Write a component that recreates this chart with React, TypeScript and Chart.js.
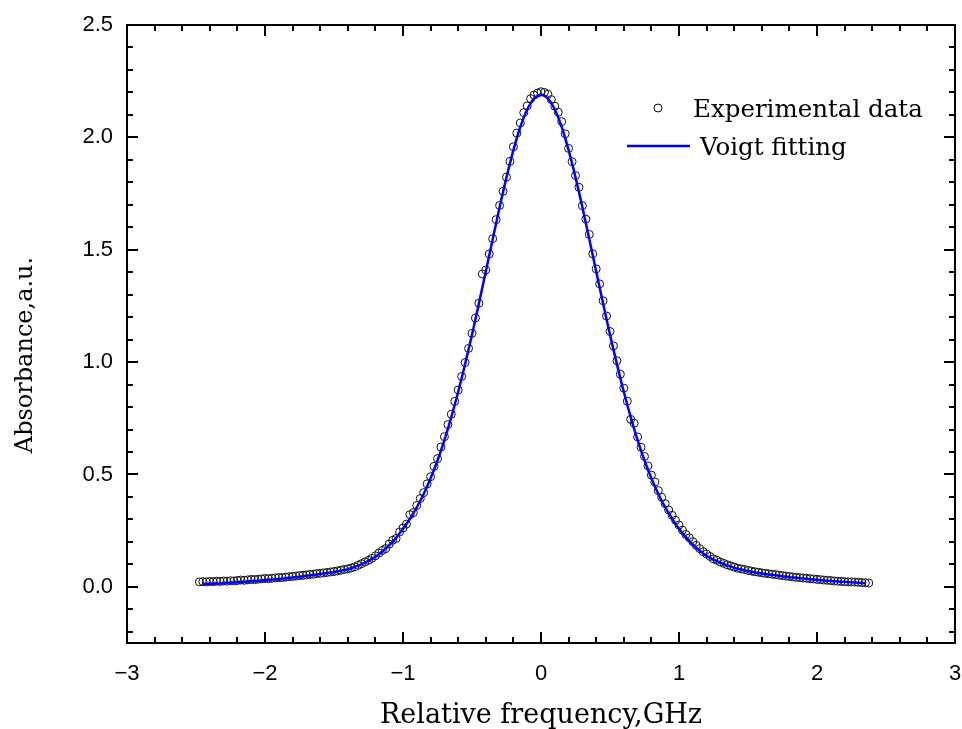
import { useEffect, useRef } from "react";
import { Chart, registerables } from "chart.js";

Chart.register(...registerables);

// ---- axis ticks ----
const xTickValues = [-3, -2, -1, 0, 1, 2, 3];
const xMinorTicks = [-2.8, -2.6, -2.4, -2.2, -1.8, -1.6, -1.4, -1.2, -0.8, -0.6, -0.4, -0.2, 0.2, 0.4, 0.6, 0.8, 1.2, 1.4, 1.6, 1.8, 2.2, 2.4, 2.6, 2.8];
const yTickValues = [0, 0.5, 1.0, 1.5, 2.0, 2.5];
const yMinorTicks = [-0.2, -0.1, 0.1, 0.2, 0.3, 0.4, 0.6, 0.7, 0.8, 0.9, 1.1, 1.2, 1.3, 1.4, 1.6, 1.7, 1.8, 1.9, 2.1, 2.2, 2.3, 2.4];

// ---- experimental data (relative frequency, GHz / absorbance) ----
const expFreq = [
  -2.475, -2.45, -2.425, -2.4, -2.375, -2.35, -2.325, -2.3, -2.275, -2.25, -2.225, -2.2, -2.175, -2.15, -2.125, -2.1, -2.075, -2.05, -2.025, -2.0,
  -1.975, -1.95, -1.925, -1.9, -1.875, -1.85, -1.825, -1.8, -1.775, -1.75, -1.725, -1.7, -1.675, -1.65, -1.625, -1.6, -1.575, -1.55, -1.525, -1.5,
  -1.475, -1.45, -1.425, -1.4, -1.375, -1.35, -1.325, -1.3, -1.275, -1.25, -1.225, -1.2, -1.175, -1.15, -1.125, -1.1, -1.075, -1.05, -1.025, -1.0,
  -0.975, -0.95, -0.925, -0.9, -0.875, -0.85, -0.825, -0.8, -0.775, -0.75, -0.725, -0.7, -0.675, -0.65, -0.625, -0.6, -0.575, -0.55, -0.525, -0.5,
  -0.475, -0.45, -0.425, -0.4, -0.375, -0.35, -0.325, -0.3, -0.275, -0.25, -0.225, -0.2, -0.175, -0.15, -0.125, -0.1, -0.075, -0.05, -0.025, 0.0,
  0.025, 0.05, 0.075, 0.1, 0.125, 0.15, 0.175, 0.2, 0.225, 0.25, 0.275, 0.3, 0.325, 0.35, 0.375, 0.4, 0.425, 0.45, 0.475, 0.5,
  0.525, 0.55, 0.575, 0.6, 0.625, 0.65, 0.675, 0.7, 0.725, 0.75, 0.775, 0.8, 0.825, 0.85, 0.875, 0.9, 0.925, 0.95, 0.975, 1.0,
  1.025, 1.05, 1.075, 1.1, 1.125, 1.15, 1.175, 1.2, 1.225, 1.25, 1.275, 1.3, 1.325, 1.35, 1.375, 1.4, 1.425, 1.45, 1.475, 1.5,
  1.525, 1.55, 1.575, 1.6, 1.625, 1.65, 1.675, 1.7, 1.725, 1.75, 1.775, 1.8, 1.825, 1.85, 1.875, 1.9, 1.925, 1.95, 1.975, 2.0,
  2.025, 2.05, 2.075, 2.1, 2.125, 2.15, 2.175, 2.2, 2.225, 2.25, 2.275, 2.3, 2.325, 2.35, 2.375,
];
const expAbsorbance = [
  0.022, 0.023, 0.022, 0.024, 0.023, 0.025, 0.024, 0.026, 0.025, 0.027, 0.026, 0.028, 0.030, 0.029, 0.031, 0.033, 0.032, 0.034, 0.035, 0.037,
  0.036, 0.038, 0.040, 0.041, 0.041, 0.043, 0.045, 0.046, 0.048, 0.050, 0.051, 0.053, 0.055, 0.056, 0.059, 0.060, 0.062, 0.064, 0.066, 0.068,
  0.071, 0.074, 0.077, 0.080, 0.084, 0.089, 0.096, 0.103, 0.111, 0.118, 0.127, 0.138, 0.150, 0.162, 0.170, 0.190, 0.207, 0.215, 0.244, 0.262,
  0.279, 0.321, 0.330, 0.362, 0.393, 0.419, 0.458, 0.490, 0.536, 0.570, 0.622, 0.668, 0.722, 0.768, 0.825, 0.876, 0.936, 0.998, 1.061, 1.128,
  1.196, 1.262, 1.392, 1.410, 1.481, 1.549, 1.634, 1.697, 1.760, 1.823, 1.893, 1.958, 2.019, 2.064, 2.110, 2.140, 2.172, 2.188, 2.197, 2.203,
  2.200, 2.192, 2.168, 2.139, 2.112, 2.070, 2.016, 1.951, 1.892, 1.830, 1.778, 1.696, 1.636, 1.568, 1.482, 1.415, 1.348, 1.273, 1.205, 1.136,
  1.072, 1.006, 0.946, 0.884, 0.826, 0.745, 0.728, 0.667, 0.621, 0.580, 0.538, 0.497, 0.466, 0.428, 0.398, 0.370, 0.342, 0.318, 0.296, 0.275,
  0.252, 0.233, 0.218, 0.201, 0.184, 0.170, 0.156, 0.146, 0.135, 0.124, 0.118, 0.110, 0.104, 0.098, 0.093, 0.088, 0.083, 0.080, 0.077, 0.073,
  0.070, 0.067, 0.065, 0.062, 0.060, 0.058, 0.056, 0.054, 0.052, 0.050, 0.048, 0.046, 0.044, 0.042, 0.041, 0.039, 0.038, 0.036, 0.035, 0.033,
  0.032, 0.030, 0.029, 0.028, 0.026, 0.025, 0.024, 0.023, 0.022, 0.022, 0.021, 0.020, 0.019, 0.018, 0.017,
];

// ---- Voigt fitting curve ----
const fitFreq = [
  -2.45, -2.4, -2.35, -2.3, -2.25, -2.2, -2.15, -2.1, -2.05, -2.0,
  -1.95, -1.9, -1.85, -1.8, -1.75, -1.7, -1.65, -1.6, -1.55, -1.5,
  -1.45, -1.4, -1.35, -1.3, -1.25, -1.2, -1.15, -1.1, -1.05, -1.0,
  -0.95, -0.9, -0.85, -0.8, -0.75, -0.7, -0.65, -0.6, -0.55, -0.5,
  -0.45, -0.4, -0.35, -0.3, -0.25, -0.2, -0.15, -0.1, -0.05, 0.0,
  0.05, 0.1, 0.15, 0.2, 0.25, 0.3, 0.35, 0.4, 0.45, 0.5,
  0.55, 0.6, 0.65, 0.7, 0.75, 0.8, 0.85, 0.9, 0.95, 1.0,
  1.05, 1.1, 1.15, 1.2, 1.25, 1.3, 1.35, 1.4, 1.45, 1.5,
  1.55, 1.6, 1.65, 1.7, 1.75, 1.8, 1.85, 1.9, 1.95, 2.0,
  2.05, 2.1, 2.15, 2.2, 2.25, 2.3, 2.35,
];
const fitAbsorbance = [
  0.013, 0.014, 0.015, 0.017, 0.019, 0.021, 0.023, 0.025, 0.027, 0.030,
  0.032, 0.035, 0.038, 0.041, 0.045, 0.049, 0.053, 0.057, 0.061, 0.065,
  0.072, 0.078, 0.089, 0.101, 0.116, 0.134, 0.157, 0.185, 0.218, 0.258,
  0.303, 0.354, 0.413, 0.483, 0.562, 0.653, 0.755, 0.868, 0.991, 1.122,
  1.261, 1.403, 1.547, 1.689, 1.822, 1.943, 2.046, 2.124, 2.173, 2.190,
  2.173, 2.124, 2.046, 1.943, 1.822, 1.689, 1.547, 1.403, 1.261, 1.122,
  0.991, 0.868, 0.755, 0.653, 0.562, 0.483, 0.413, 0.354, 0.303, 0.258,
  0.220, 0.188, 0.161, 0.138, 0.121, 0.108, 0.096, 0.085, 0.077, 0.070,
  0.064, 0.059, 0.055, 0.051, 0.047, 0.043, 0.040, 0.037, 0.034, 0.031,
  0.028, 0.026, 0.024, 0.022, 0.020, 0.018, 0.016,
];

const legendLabels = ["Experimental data", "Voigt fitting"];
const xTitle = "Relative frequency,GHz";
const yTitle = "Absorbance,a.u.";

const SERIF = "'DejaVu Serif', 'Liberation Serif', serif";
const SANS = "'Liberation Sans', Arial, sans-serif";

const framePlugin = {
  id: "originFrame",
  afterDraw(chart: any) {
    const { ctx, chartArea } = chart;
    const { left, right, top, bottom } = chartArea;
    const xs = chart.scales.x;
    const ys = chart.scales.y;
    ctx.save();
    ctx.strokeStyle = "#000";
    ctx.lineWidth = 2;
    ctx.strokeRect(left, top, right - left, bottom - top);
    ctx.lineCap = "butt";
    const major = 11;
    const minor = 6;
    ctx.beginPath();
    xTickValues.forEach((v) => {
      const p = Math.round(xs.getPixelForValue(v));
      ctx.moveTo(p, bottom); ctx.lineTo(p, bottom - major);
      ctx.moveTo(p, top); ctx.lineTo(p, top + major);
    });
    xMinorTicks.forEach((v) => {
      const p = Math.round(xs.getPixelForValue(v));
      ctx.moveTo(p, bottom); ctx.lineTo(p, bottom - minor);
      ctx.moveTo(p, top); ctx.lineTo(p, top + minor);
    });
    yTickValues.forEach((v) => {
      const p = Math.round(ys.getPixelForValue(v));
      ctx.moveTo(left, p); ctx.lineTo(left + major, p);
      ctx.moveTo(right, p); ctx.lineTo(right - major, p);
    });
    yMinorTicks.forEach((v) => {
      const p = Math.round(ys.getPixelForValue(v));
      ctx.moveTo(left, p); ctx.lineTo(left + minor, p);
      ctx.moveTo(right, p); ctx.lineTo(right - minor, p);
    });
    ctx.stroke();

    // y-axis title
    ctx.fillStyle = "#000";
    ctx.font = `24px ${SERIF}`;
    ctx.textAlign = "center";
    ctx.textBaseline = "middle";
    ctx.save();
    ctx.translate(26, 355);
    ctx.rotate(-Math.PI / 2);
    ctx.fillText(yTitle, 0, 0);
    ctx.restore();

    // legend
    ctx.font = `24.5px ${SERIF}`;
    ctx.textAlign = "left";
    ctx.beginPath();
    ctx.lineWidth = 1;
    ctx.arc(658, 108, 4, 0, Math.PI * 2);
    ctx.stroke();
    ctx.fillText(legendLabels[0], 693, 111);
    ctx.beginPath();
    ctx.strokeStyle = "#0000ff";
    ctx.lineWidth = 2.5;
    ctx.moveTo(627, 146);
    ctx.lineTo(690, 146);
    ctx.stroke();
    ctx.fillText(legendLabels[1], 700, 149);
    ctx.restore();
  },
};

export default function App() {
  const ref = useRef<HTMLCanvasElement>(null);
  useEffect(() => {
    if (!ref.current) return;
    const chart = new Chart(ref.current, {
      type: "scatter",
      data: {
        datasets: [
          {
            type: "line",
            label: legendLabels[1],
            data: fitFreq.map((x, i) => ({ x, y: fitAbsorbance[i] })),
            borderColor: "#0000ff",
            borderWidth: 2.5,
            pointRadius: 0,
            fill: false,
            tension: 0.4,
            cubicInterpolationMode: "monotone",
          } as any,
          {
            type: "scatter",
            label: legendLabels[0],
            data: expFreq.map((x, i) => ({ x, y: expAbsorbance[i] })),
            pointStyle: "circle",
            pointRadius: 4,
            borderColor: "#111",
            borderWidth: 1,
            backgroundColor: "rgba(0,0,0,0)",
            showLine: false,
          } as any,
        ],
      },
      options: {
        responsive: false,
        animation: false,
        devicePixelRatio: 1,
        layout: { padding: { top: 25, right: 7, left: 0, bottom: 0 } },
        plugins: { legend: { display: false }, tooltip: { enabled: false } },
        scales: {
          x: {
            type: "linear",
            position: "bottom",
            min: -3,
            max: 3,
            afterBuildTicks: (s: any) => {
              s.ticks = xTickValues.map((v) => ({ value: v }));
            },
            afterFit: (s: any) => {
              s.height = 86;
              s.paddingLeft = 0;
              s.paddingRight = 0;
            },
            grid: { display: false, drawTicks: false },
            border: { display: false },
            ticks: {
              padding: 18,
              color: "#000",
              font: { family: SANS, size: 22 },
              callback: (v: any) => (Number(v) < 0 ? "\u2212" + Math.abs(Number(v)) : String(v)),
            },
            title: {
              display: true,
              text: xTitle,
              color: "#000",
              font: { family: SERIF, size: 27, lineHeight: 1 },
              padding: { top: 0, bottom: 0 },
            },
          },
          y: {
            type: "linear",
            min: -0.25,
            max: 2.5,
            afterBuildTicks: (s: any) => {
              s.ticks = yTickValues.map((v) => ({ value: v }));
            },
            afterFit: (s: any) => {
              s.width = 127;
              s.paddingTop = 0;
              s.paddingBottom = 0;
            },
            grid: { display: false, drawTicks: false },
            border: { display: false },
            ticks: {
              padding: 14,
              color: "#000",
              font: { family: SANS, size: 22 },
              callback: (v: any) => Number(v).toFixed(1),
            },
            title: { display: false },
          },
        },
      },
      plugins: [framePlugin],
    });
    return () => chart.destroy();
  }, []);
  return (
    <div style={{ position: "absolute", left: 0, top: 0, width: 962, height: 729, background: "#fff" }}>
      <canvas ref={ref} width={962} height={729} style={{ display: "block", width: 962, height: 729 }} />
    </div>
  );
}
